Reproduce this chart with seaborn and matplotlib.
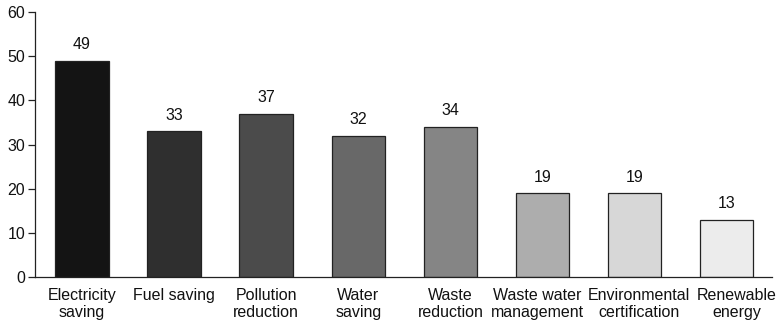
import matplotlib
matplotlib.use("Agg")
import matplotlib.pyplot as plt
import matplotlib.transforms as mtransforms
import seaborn as sns
import pandas as pd

categories = ["Electricity\nsaving", "Fuel saving", "Pollution\nreduction", "Water\nsaving",
              "Waste\nreduction", "Waste water\nmanagement", "Environmental\ncertification",
              "Renewable\nenergy"]
values = [49, 33, 37, 32, 34, 19, 19, 13]
bar_colors = ["#141414", "#2f2f2f", "#4b4b4b", "#686868", "#858585", "#adadad", "#d7d7d7", "#ececec"]
y_ticks = [0, 10, 20, 30, 40, 50, 60]
# horizontal nudges (points) so the crowded right-hand labels don't collide
label_shift_pt = [0, 0, 0, 0, 0, -3.5, 3, 7.5]

sns.set_theme(style="white")
plt.rcParams["font.family"] = ["Liberation Sans", "DejaVu Sans"]

df = pd.DataFrame({"category": categories, "value": values})

fig = plt.figure(figsize=(7.82, 3.26), dpi=100)
ax = fig.add_axes([0.0448, 0.150, 0.9422, 0.813])

sns.barplot(data=df, x="category", y="value", hue="category", palette=bar_colors,
            legend=False, width=0.58, edgecolor="#222222", linewidth=0.9, ax=ax,
            saturation=1)

for i, v in enumerate(values):
    ax.text(i, v + 2.6, str(v), ha="center", va="baseline", fontsize=11.5, color="#111111")

ax.set_ylim(0, 60)
ax.set_xlim(-0.51, 7.49)
ax.set_yticks(y_ticks)
ax.set_xlabel("")
ax.set_ylabel("")
ax.tick_params(axis="y", direction="out", length=5, width=0.9, color="#222222",
               labelsize=11.5, labelcolor="#111111", pad=2, left=True)
ax.tick_params(axis="x", length=0, labelsize=11.5, labelcolor="#111111", pad=8)
for lbl, shift in zip(ax.get_xticklabels(), label_shift_pt):
    lbl.set_linespacing(1.15)
    if shift:
        lbl.set_transform(lbl.get_transform() +
                          mtransforms.ScaledTranslation(shift / 72, 0, fig.dpi_scale_trans))

for side in ["top", "right"]:
    ax.spines[side].set_visible(False)
for side in ["left", "bottom"]:
    ax.spines[side].set_color("#222222")
    ax.spines[side].set_linewidth(0.9)

fig.savefig("out.png", dpi=100)
